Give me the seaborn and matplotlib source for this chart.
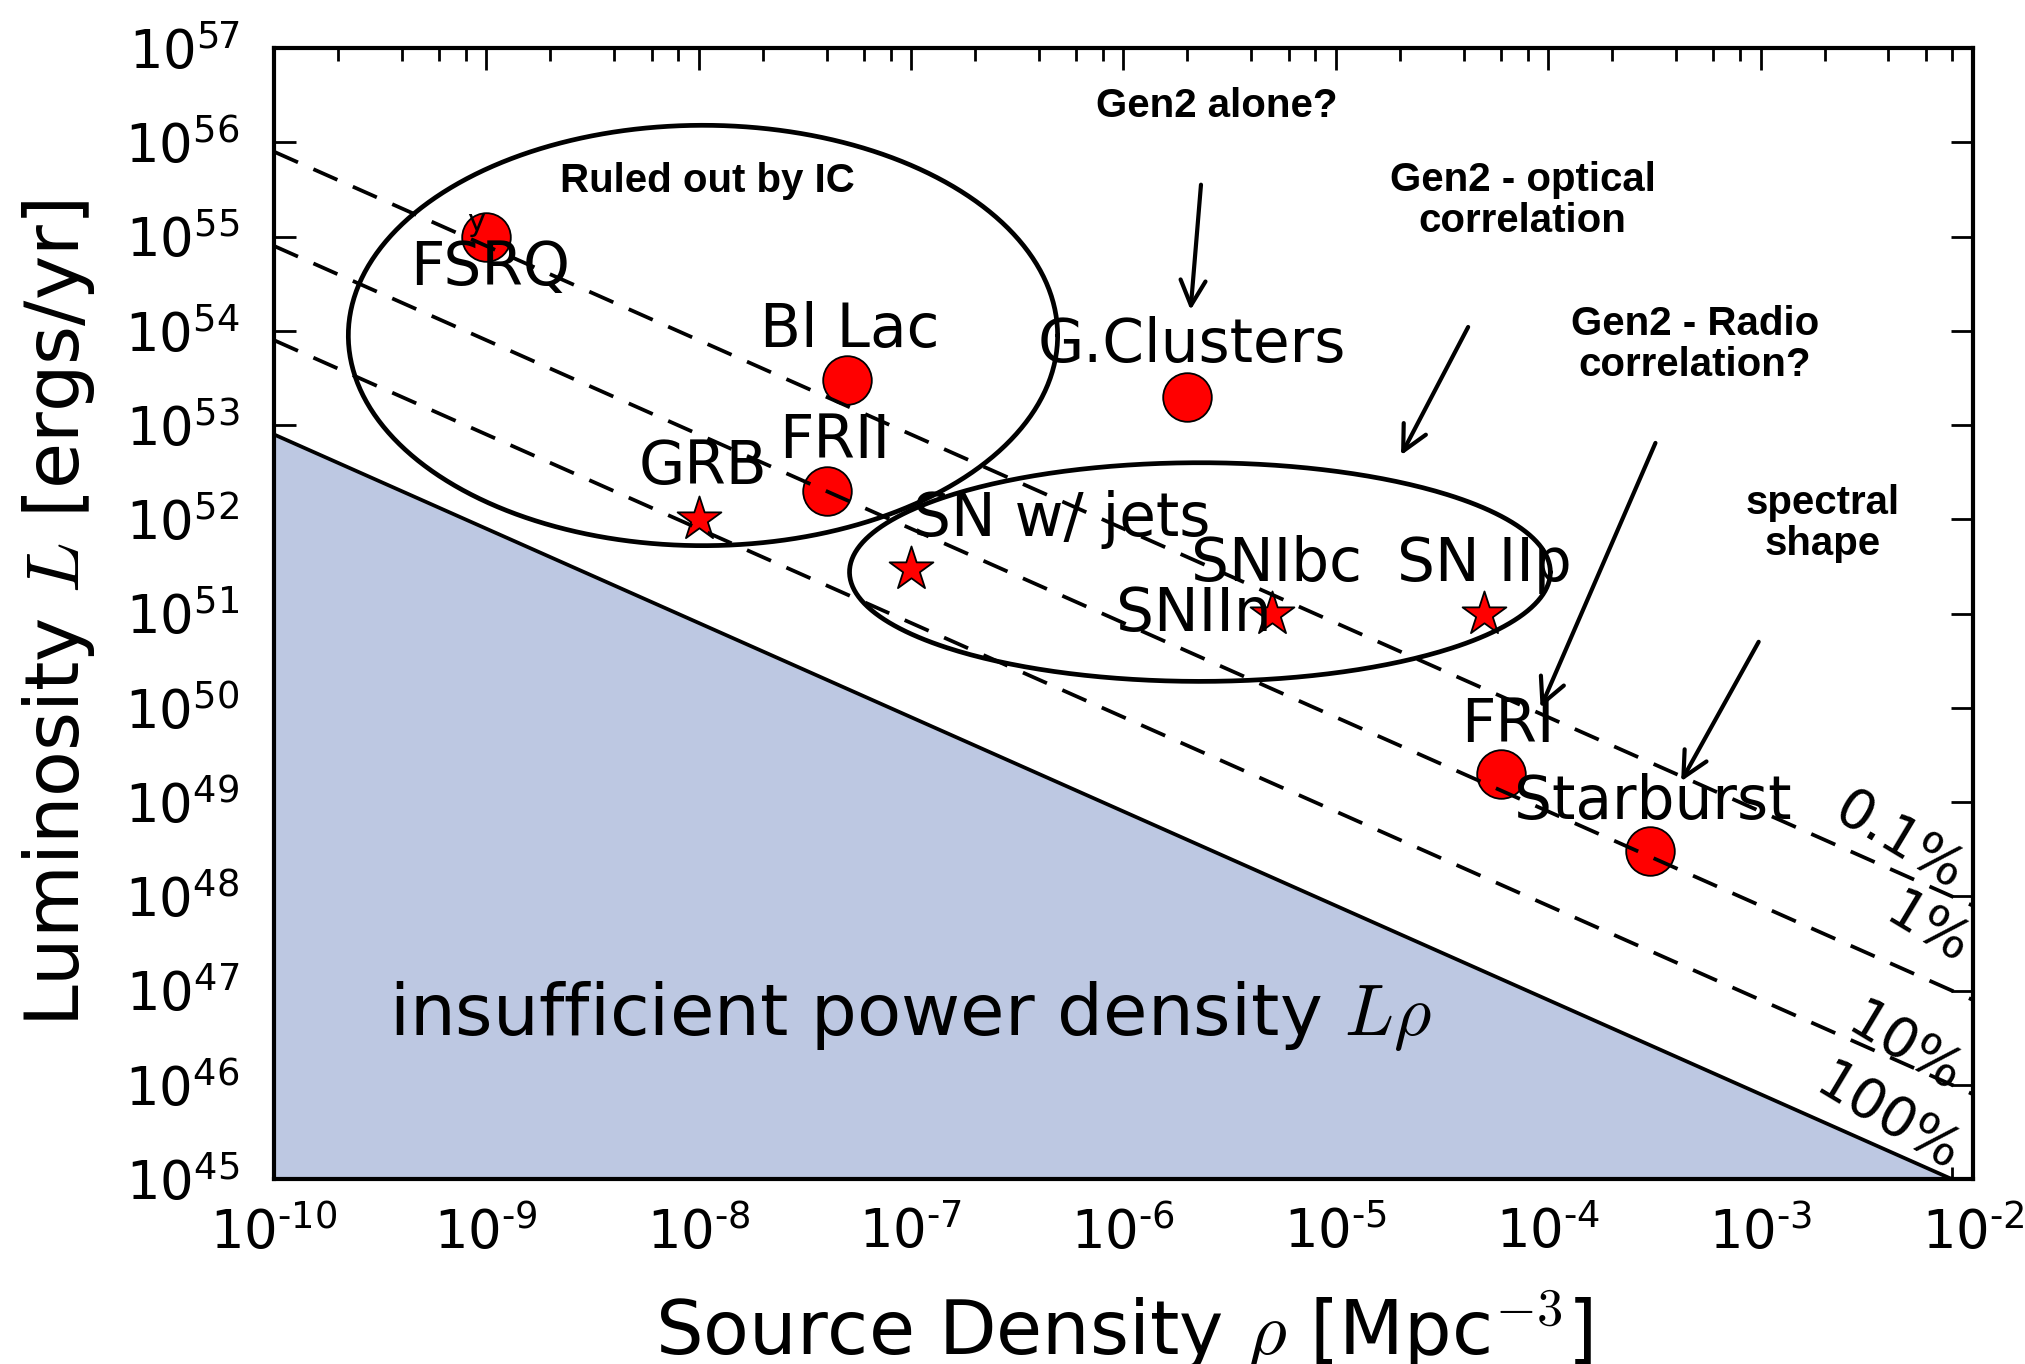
import numpy as np
import pandas as pd
import matplotlib
matplotlib.use('Agg')
import matplotlib.pyplot as plt
import seaborn as sns
from matplotlib.ticker import LogLocator, FuncFormatter, NullLocator

# source classes (density in Mpc^-3, luminosity in erg/yr)
circle_names = ['FSRQ', 'Bl Lac', 'G.Clusters', 'FRII', 'FRI', 'Starburst']
circle_rho = [1e-9, 5e-8, 2e-6, 4e-8, 6e-5, 3e-4]
circle_lum = [1e55, 3e53, 2e53, 2e52, 2e49, 3e48]
star_names = ['GRB', 'SN w/ jets', 'SNIIn', 'SN IIp']
star_rho = [1e-8, 1e-7, 5e-6, 5e-5]
star_lum = [1e52, 3e51, 1e51, 1e51]

# label positions (log10 rho, log10 L)
label_text = ['FSRQ', 'Bl Lac', 'G.Clusters', 'FRII', 'GRB', 'SN w/ jets',
              'SNIbc', 'SNIIn', 'SN IIp', 'FRI', 'Starburst']
label_x = [-8.98, -7.29, -5.68, -7.36, -7.98, -6.29, -5.28, -5.67, -4.30, -4.19, -3.51]
label_y = [54.66, 54.00, 53.84, 52.82, 52.55, 52.00, 51.52, 50.99, 51.52, 49.81, 48.99]

# minimum power density L*rho and fractions
lrho_min = 10 ** 42.9
fractions = [1.0, 0.1, 0.01, 0.001]
frac_labels = ['100%', '10%', '1%', '0.1%']
frac_lab_x = [-2.40, -2.32, -2.21, -2.35]
frac_lab_y = [45.64, 46.38, 47.64, 48.58]

# ellipses: centre and radii in decades
ell_center = [(-7.98, 53.95), (-5.64, 51.44)]
ell_radius = [(1.67, 2.23), (1.65, 1.16)]

# annotations
note_text = ['Ruled out by IC', 'Gen2 alone?', 'Gen2 - optical\ncorrelation',
             'Gen2 - Radio\ncorrelation?', 'spectral\nshape']
note_x = [-7.96, -5.56, -4.12, -3.31, -2.71]
note_y = [55.59, 56.38, 55.38, 53.85, 51.96]
arrow_start = [(-5.635, 55.55), (-4.377, 54.04), (-3.495, 52.81), (-3.009, 50.70)]
arrow_end = [(-5.684, 54.22), (-4.693, 52.68), (-4.036, 50.00), (-3.374, 49.22)]

sns.set_style('ticks')
plt.rcParams['font.family'] = ['DejaVu Sans']
plt.rcParams['mathtext.fontset'] = 'cm'
plt.rcParams.update({'text.color': 'k', 'axes.labelcolor': 'k',
                     'xtick.color': 'k', 'ytick.color': 'k'})

fig = plt.figure(figsize=(20.25, 13.64), dpi=100)
ax = fig.add_axes([0.1353, 0.1356, 0.839, 0.8292])
ax.set_xscale('log')
ax.set_yscale('log')
ax.set_xlim(1e-10, 1e-2)
ax.set_ylim(1e45, 1e57)

rho = np.logspace(-10, -2, 200)
ax.fill_between(rho, 1e45, lrho_min / rho, color='#bdc8e2', lw=0, zorder=1)
for f in fractions:
    ax.plot(rho, lrho_min / f / rho, color='k', lw=2.7,
            ls='-' if f == 1.0 else (0, (7, 4.5)), zorder=6)

for (cx, cy), (rx, ry) in zip(ell_center, ell_radius):
    t = np.linspace(0, 2 * np.pi, 400)
    ax.plot(10 ** (cx + rx * np.cos(t)), 10 ** (cy + ry * np.sin(t)), color='k', lw=3.4, zorder=6)

circ = pd.DataFrame({'rho': circle_rho, 'lum': circle_lum, 'name': circle_names})
stars = pd.DataFrame({'rho': star_rho, 'lum': star_lum, 'name': star_names})
sns.scatterplot(data=circ, x='rho', y='lum', marker='o', s=1225, color='red',
                edgecolor='k', linewidth=1.3, ax=ax, zorder=3)
sns.scatterplot(data=stars, x='rho', y='lum', marker='*', s=1100, color='red',
                edgecolor='k', linewidth=1.3, ax=ax, zorder=3)

for txt, lx, ly in zip(label_text, label_x, label_y):
    ax.text(10 ** lx, 10 ** ly, txt, fontsize=43, ha='center', va='center', zorder=4)
ax.text(10 ** -9.05, 10 ** 55.15, 'y', fontsize=22, ha='center', va='center', zorder=4)

for txt, lx, ly in zip(frac_labels, frac_lab_x, frac_lab_y):
    ax.text(10 ** lx, 10 ** ly, txt, fontsize=40, rotation=-31, ha='center', va='center',
            rotation_mode='anchor', zorder=4)

ax.text(10 ** -7.0, 10 ** 46.73, r'insufficient power density $L\rho$', fontsize=52,
        ha='center', va='center', zorder=4)

for txt, nx, ny in zip(note_text, note_x, note_y):
    ax.text(10 ** nx, 10 ** ny, txt, fontsize=29, fontweight='bold', family='Liberation Sans',
            ha='center', va='center', linespacing=1.1, zorder=4)
for (sx, sy), (ex, ey) in zip(arrow_start, arrow_end):
    ax.annotate('', xy=(10 ** ex, 10 ** ey), xytext=(10 ** sx, 10 ** sy),
                arrowprops=dict(arrowstyle='->', lw=3, color='k', mutation_scale=45,
                                shrinkA=0, shrinkB=0), zorder=5)


def log_label(v, p):
    n = int(round(np.log10(v)))
    s = str(n).replace('-', '\u2010')
    return r'$\mathregular{10^{%s}}$' % s


fmt = FuncFormatter(log_label)
ax.xaxis.set_major_locator(LogLocator(base=10, numticks=20))
ax.xaxis.set_minor_locator(LogLocator(base=10, subs=[2, 4, 6, 8], numticks=20))
ax.yaxis.set_major_locator(LogLocator(base=10, numticks=20))
ax.yaxis.set_minor_locator(NullLocator())
ax.xaxis.set_major_formatter(fmt)
ax.yaxis.set_major_formatter(fmt)
ax.tick_params(which='both', direction='in', top=True, right=True, colors='k', labelsize=38)
ax.tick_params(which='major', length=16, width=2)
ax.tick_params(which='minor', length=9, width=2)
ax.tick_params(axis='x', pad=20)
ax.tick_params(axis='y', pad=25)
for sp in ax.spines.values():
    sp.set_linewidth(3)
    sp.set_color('k')

ax.set_xlabel(r'Source Density $\rho$ [Mpc$^{-3}$]', fontsize=54)
ax.set_ylabel(r'Luminosity $L$ [ergs/yr]', fontsize=54)
ax.xaxis.set_label_coords(0.5, -0.097)
ax.yaxis.set_label_coords(-0.104, 0.5)

fig.savefig('out.png', dpi=100)
